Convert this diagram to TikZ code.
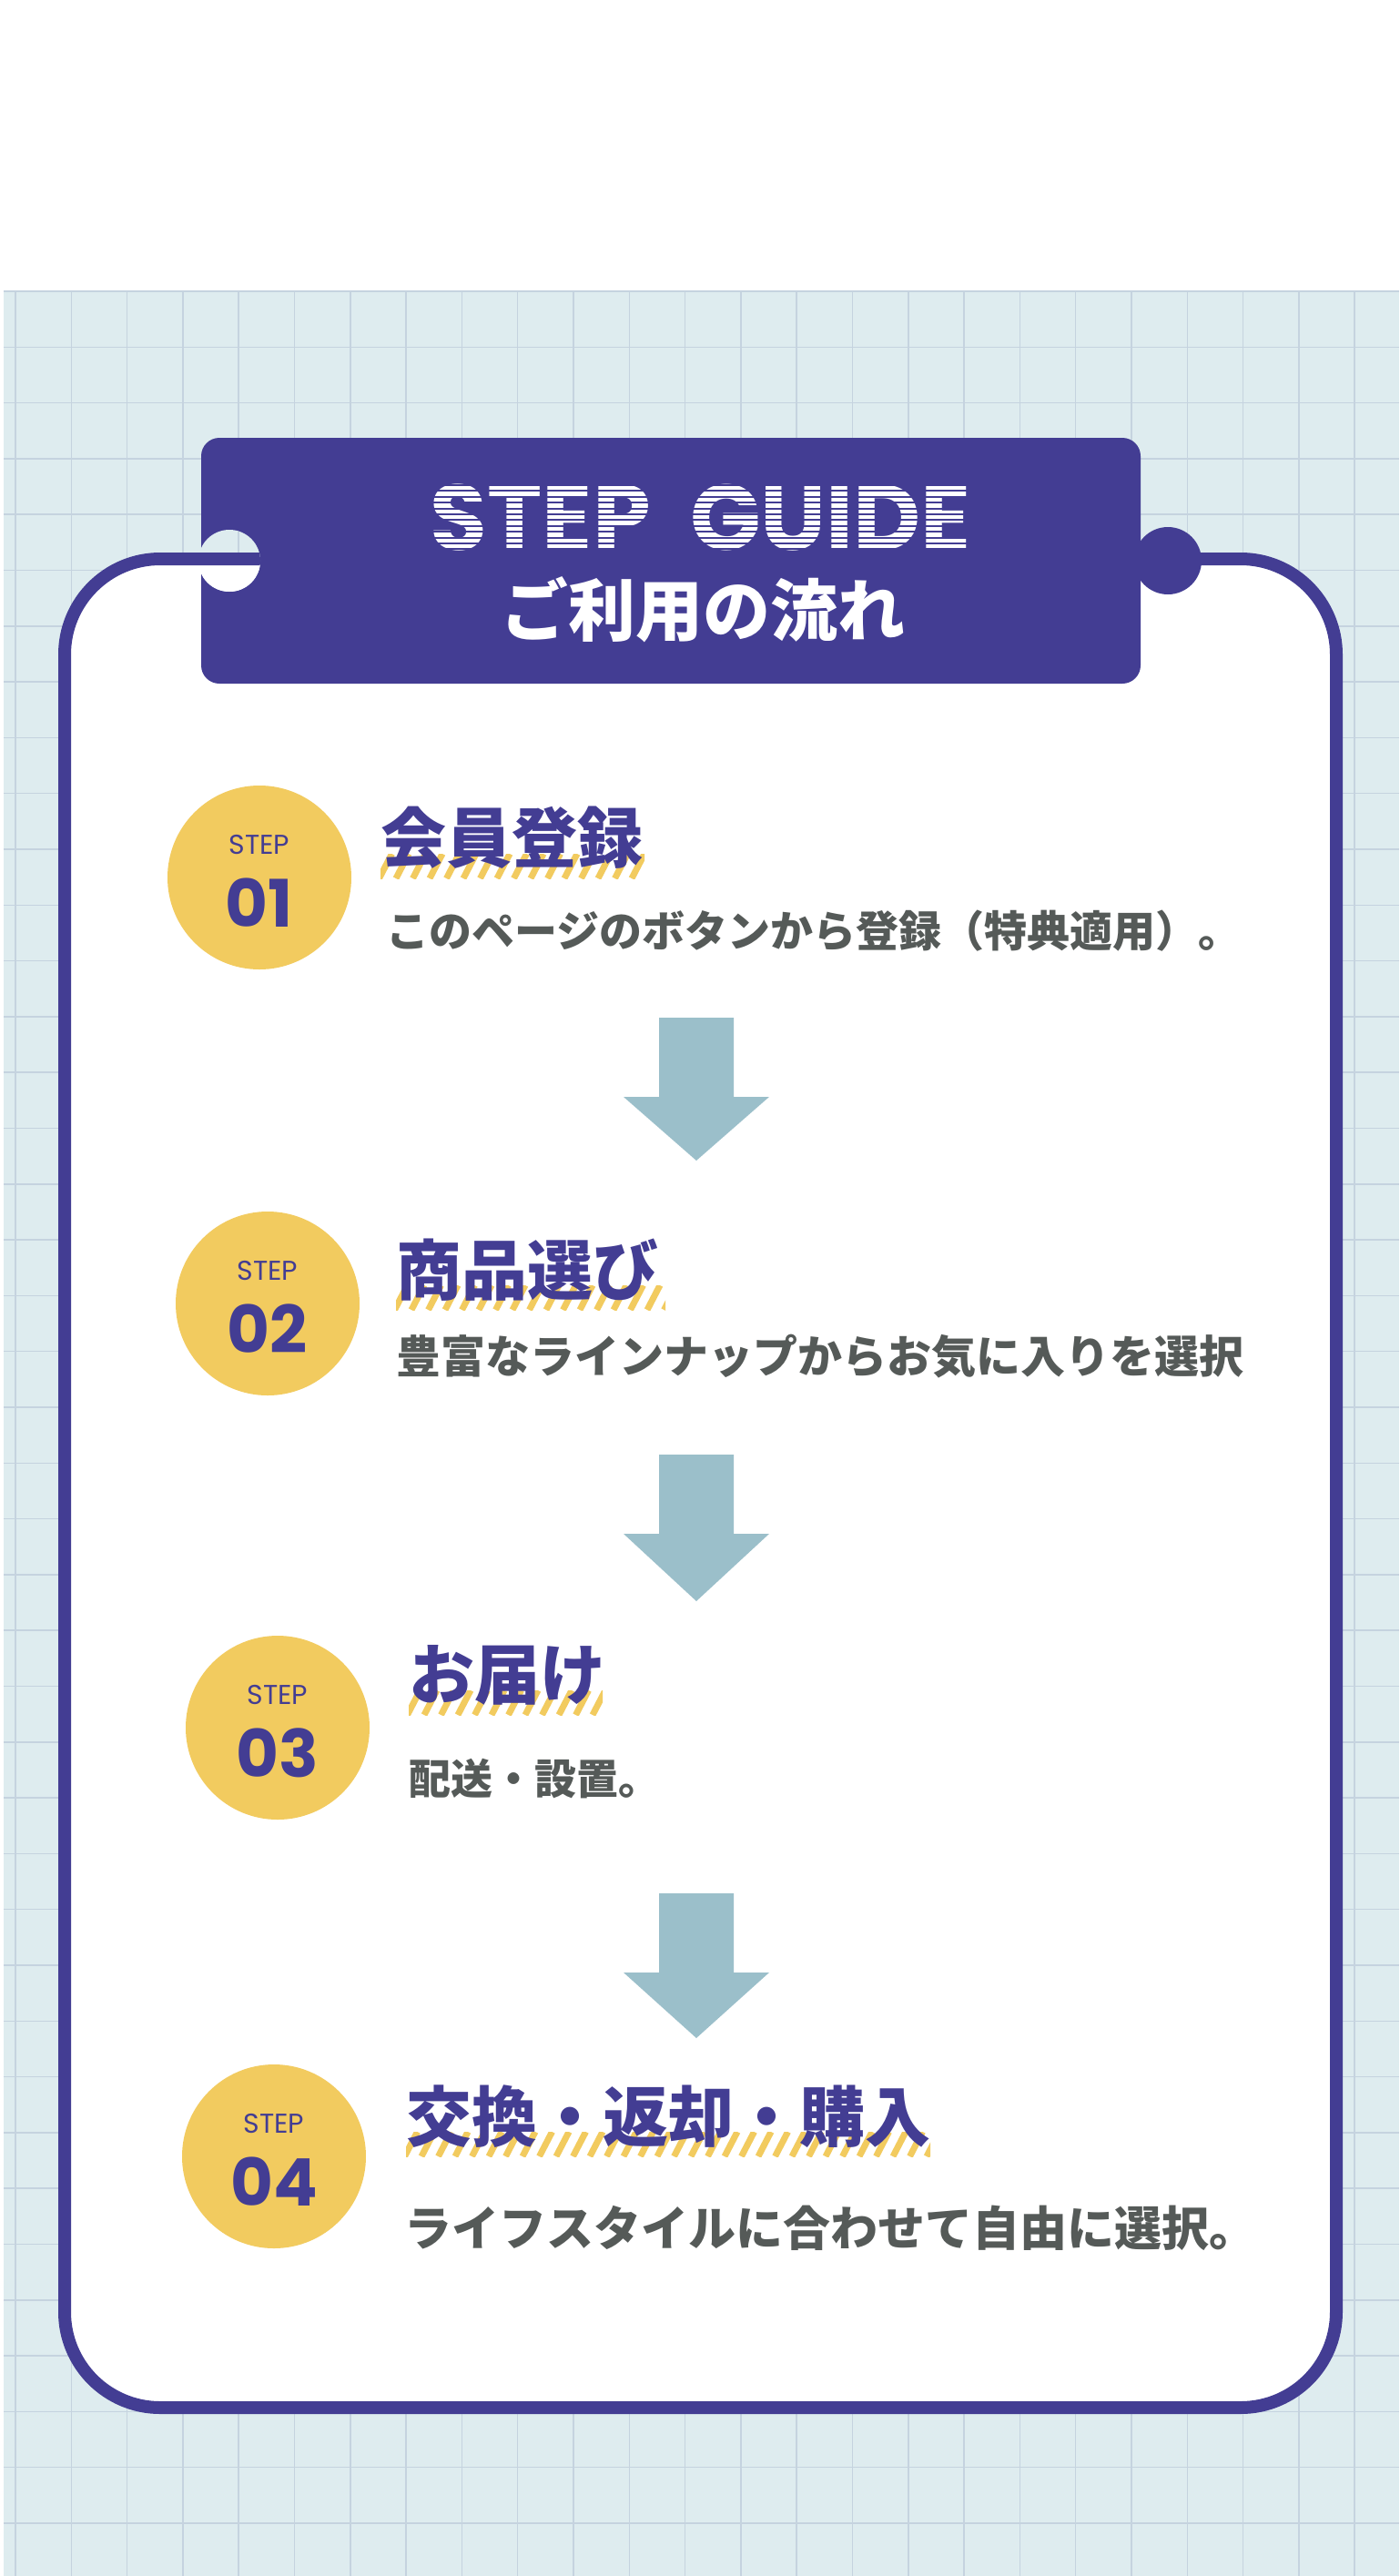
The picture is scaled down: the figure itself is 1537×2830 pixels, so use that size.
\documentclass[tikz,border=0pt]{standalone}
\usepackage{fontspec}
\newfontfamily\jp{Noto Sans CJK JP}
\newfontfamily\pop{Poppins}
\definecolor{bgc}{HTML}{DEECEF}
\definecolor{gridc}{HTML}{C5D3DF}
\definecolor{navy}{HTML}{433D93}
\definecolor{gold}{HTML}{F2CB5F}
\definecolor{txt}{HTML}{555A58}
\definecolor{arr}{HTML}{9BBFCA}
\tikzset{
  circ/.style={fill=gold},
  stepl/.style={text=navy,font=\pop\fontsize{30}{32}\selectfont,inner sep=0},
  num/.style={text=navy,font=\pop\bfseries\fontsize{72}{76}\selectfont,inner sep=0},
  ttl/.style={anchor=west,text=navy,font=\jp\bfseries\fontsize{72}{80}\selectfont,inner sep=0},
  sub/.style={anchor=west,text=txt,font=\jp\bfseries\fontsize{#1}{52}\selectfont,inner sep=0},
  sub/.default=47,
  cardb/.style={draw=navy,line width=14pt,fill=white,rounded corners=105pt},
}
\newcommand{\mybg}{%
  \fill[bgc] (4,319) rectangle (1537,2830);
  \foreach \i in {0,...,25} {\draw[gridc,line width=1.5pt] (17+61.3*\i,319) -- (17+61.3*\i,2830);}
  \foreach \j in {0,...,41} {\draw[gridc,line width=1.5pt] (4,320+61.3*\j) -- (1537,320+61.3*\j);}
  \draw[cardb] (71,614) rectangle (1468,2645);
}
\newcommand{\stripes}[4]{%
  \begin{scope}
  \clip (#1,#3) rectangle (#2,#4);
  \foreach \k in {0,...,40} {\draw[gold,line width=7pt] (#1-20+18.5*\k,#4) -- (#1-20+18.5*\k+14,#3);}
  \end{scope}}
\begin{document}
\begin{tikzpicture}[x=1pt,y=-1pt]
\useasboundingbox (0,0) rectangle (1537,2830);
\fill[white] (0,0) rectangle (1537,2830);
\mybg
% header
\fill[navy] (1283,616) circle[radius=37pt];
\fill[navy,rounded corners=20pt] (221,481) rectangle (1253,751);
\begin{scope}
  \clip (221,616) ++(31,0) circle[radius=34pt];
  \clip (221,400) rectangle (400,800);
  \mybg
\end{scope}
\node[text=white,font=\pop\bfseries\fontsize{102}{106}\selectfont,inner sep=0,anchor=base] (sg) at (770,604) {STEP\ \ GUIDE};
\begin{scope}
  \clip (440,528) rectangle (1100,608);
  \foreach \k in {0,...,13} {\draw[navy,line width=2pt] (440,533+6.4*\k) -- (1100,533+6.4*\k);}
\end{scope}
\node[text=white,font=\jp\bfseries\fontsize{74}{80}\selectfont,inner sep=0] (gt) at (772,670) {ご利用の流れ};
% arrows
\foreach \a/\b [count=\n] in {1118/1275,1598/1759,2080/2239} {
  \fill[arr] (724,\a) -- (806,\a) -- (806,\a+87) -- (845,\a+87) -- (765,\b) -- (685,\a+87) -- (724,\a+87) -- cycle;
}
% steps
\foreach \cx/\cy/\n in {285/964/01,294/1432/02,305/1898/03,301/2369/04} {
  \fill[circ] (\cx,\cy) circle[radius=101pt];
  \node[stepl] at (\cx,\cy-36) {STEP};
  \node[num] at (\cx,\cy+28) {\n};
}
\stripes{418}{708}{938}{965}
\node[ttl] (t1) at (418,920) {会員登録};
\node[sub] (s1) at (424,1023) {このページのボタンから登録（特典適用）。};
\stripes{435}{731}{1412}{1439}
\node[ttl] (t2) at (435,1395) {商品選び};
\node[sub=49] (s2) at (435,1490) {豊富なラインナップからお気に入りを選択};
\stripes{449}{662}{1857}{1884}
\node[ttl] (t3) at (449,1840) {お届け};
\node[sub=46] (s3) at (449,1954) {配送・設置。};
\stripes{446}{1022}{2342}{2369}
\node[ttl] (t4) at (446,2325) {交換・返却・購入};
\node[sub=52] (s4) at (444,2448) {ライフスタイルに合わせて自由に選択。};
\end{tikzpicture}
\end{document}
